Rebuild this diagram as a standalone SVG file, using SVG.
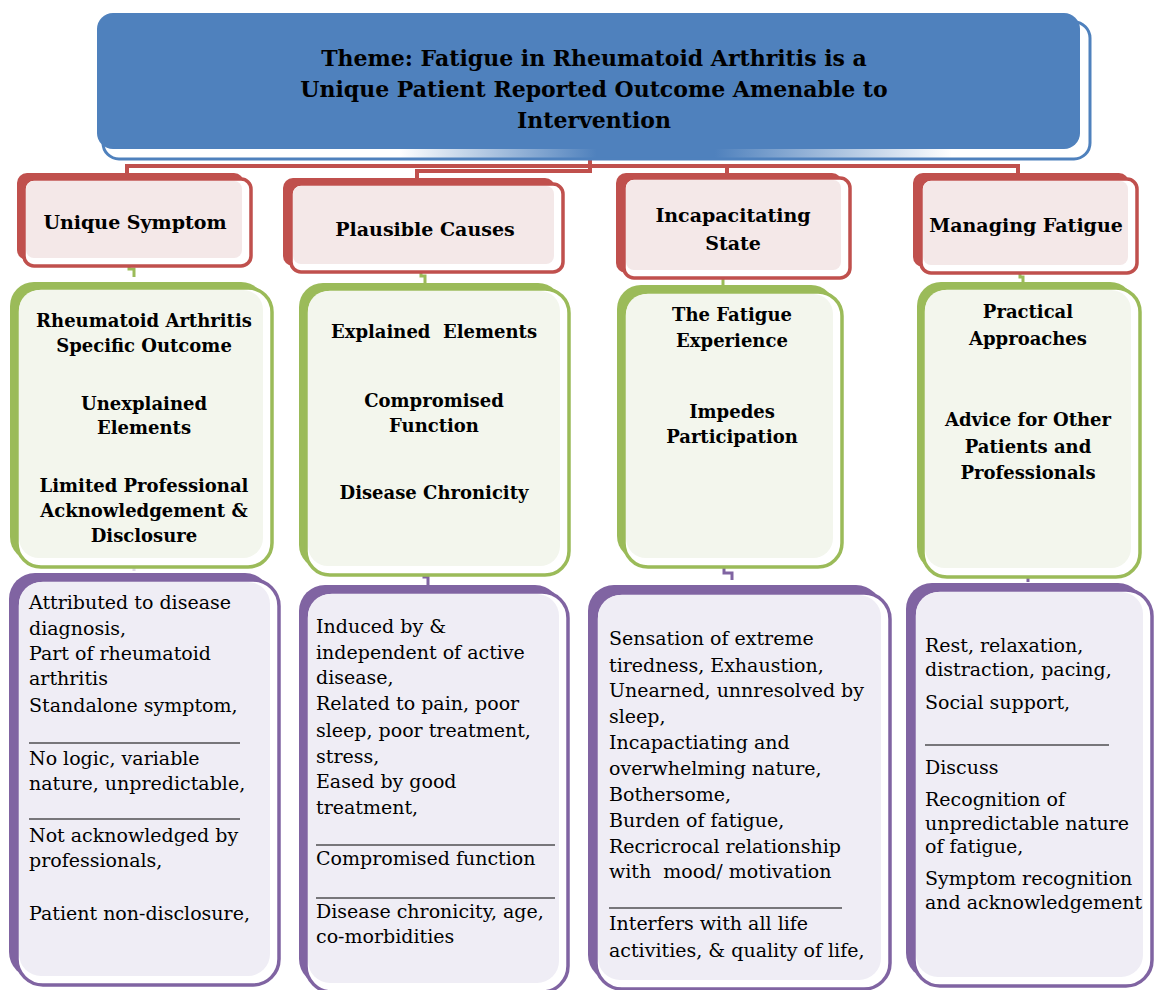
<svg xmlns="http://www.w3.org/2000/svg" width="1154" height="990" viewBox="0 0 1154 990">
  <defs>
    <linearGradient id="bandFade" x1="0" y1="0" x2="1" y2="0">
      <stop offset="0" stop-color="#ffffff"/>
      <stop offset="0.3" stop-color="#ffffff"/>
      <stop offset="0.5" stop-color="#4f81bd"/>
      <stop offset="0.62" stop-color="#4f81bd"/>
      <stop offset="0.86" stop-color="#ffffff"/>
      <stop offset="1" stop-color="#ffffff"/>
    </linearGradient>
    <style>
      .serif { font-family: "DejaVu Serif", "Liberation Serif", serif; fill: #000; }
      .theme { font-size: 22px; font-weight: bold; text-anchor: middle; }
      .head { font-size: 19px; font-weight: bold; text-anchor: middle; }
      .sub { font-size: 18px; font-weight: bold; text-anchor: middle; }
      .item { font-size: 19px; }
      .rule { stroke: #000; stroke-width: 1.2; }
      .red-back { fill: #c0504d; }
      .red-front { fill: #ffffff; stroke: #c0504d; stroke-width: 3.5; }
      .red-fill { fill: #f4e8e8; }
      .green-back { fill: #9bbb59; }
      .green-front { fill: #ffffff; stroke: #9bbb59; stroke-width: 3.5; }
      .green-fill { fill: #f3f6ed; }
      .purple-back { fill: #8064a2; }
      .purple-front { fill: #ffffff; stroke: #8064a2; stroke-width: 3.5; }
      .purple-fill { fill: #efedf5; }
      .link-red { fill: none; stroke: #c0504d; stroke-width: 4; }
      .link-green { fill: none; stroke: #9bbb59; stroke-width: 3; }
      .link-purple { fill: none; stroke: #8064a2; stroke-width: 3; }
    </style>
  </defs>

  <rect width="1154" height="990" fill="#ffffff"/>

  <!-- connectors -->
  <g id="connectors">
    <path class="link-red" d="M590,150 V166 H127 V175"/>
    <path class="link-red" d="M590,150 V166 H1018 V175"/>
    <path class="link-red" d="M590,150 V166 H727 V175"/>
    <path class="link-red" d="M590,150 V171 H417 V180"/>
    <path class="link-green" d="M129,262 V269 H134 V277"/>
    <path class="link-green" d="M421,270 V276 H425 V284"/>
    <path class="link-green" d="M723,277 V286"/>
    <path class="link-green" d="M1020,272 V277 H1023 V283"/>
    <path class="link-purple" d="M134,565 V571" stroke-opacity="0.25"/>
    <path class="link-purple" d="M424,572 V577 H428 V585"/>
    <path class="link-purple" d="M724,566 V573 H732 V580"/>
    <path class="link-purple" d="M1028,575 V582"/>
  </g>

  <!-- theme banner -->
  <g id="theme">
    <rect x="103" y="22" width="987" height="137" rx="16" fill="url(#bandFade)" stroke="#4f81bd" stroke-width="3"/>
    <rect x="97" y="13" width="983" height="136" rx="16" fill="#4f81bd"/>
    <text class="serif theme" x="594" y="66">Theme: Fatigue in Rheumatoid Arthritis is a</text>
    <text class="serif theme" x="594" y="97">Unique Patient Reported Outcome Amenable to</text>
    <text class="serif theme" x="594" y="128">Intervention</text>
  </g>

  <!-- category headers -->
  <g id="unique-symptom">
    <rect class="red-back" x="17" y="173" width="227" height="87" rx="10"/>
    <rect class="red-front" x="24" y="179" width="227" height="87" rx="10"/>
    <rect class="red-fill" x="26" y="181" width="216" height="77" rx="8"/>
    <text class="serif head" x="135" y="229">Unique Symptom</text>
  </g>
  <g id="plausible-causes">
    <rect class="red-back" x="283" y="178" width="272" height="88" rx="10"/>
    <rect class="red-front" x="291" y="184" width="272" height="88" rx="10"/>
    <rect class="red-fill" x="293" y="186" width="261" height="78" rx="8"/>
    <text class="serif head" x="425" y="236">Plausible Causes</text>
  </g>
  <g id="incapacitating-state">
    <rect class="red-back" x="616" y="173" width="226" height="100" rx="10"/>
    <rect class="red-front" x="624" y="178" width="226" height="100" rx="10"/>
    <rect class="red-fill" x="626" y="180" width="215" height="90" rx="8"/>
    <text class="serif head" x="733" y="222">Incapacitating</text>
    <text class="serif head" x="733" y="250">State</text>
  </g>
  <g id="managing-fatigue">
    <rect class="red-back" x="913" y="173" width="216" height="94" rx="10"/>
    <rect class="red-front" x="921" y="179" width="216" height="94" rx="10"/>
    <rect class="red-fill" x="923" y="181" width="205" height="84" rx="8"/>
    <text class="serif head" x="1026" y="232">Managing Fatigue</text>
  </g>

  <!-- sub-themes -->
  <g id="unique-symptom-subthemes">
    <rect class="green-back" x="10" y="282" width="255" height="279" rx="24"/>
    <rect class="green-front" x="17" y="288" width="255" height="279" rx="24"/>
    <rect class="green-fill" x="19" y="290" width="244" height="268" rx="20"/>
    <text class="serif sub" x="144" y="327">Rheumatoid Arthritis</text>
    <text class="serif sub" x="144" y="352">Specific Outcome</text>
    <text class="serif sub" x="144" y="410">Unexplained</text>
    <text class="serif sub" x="144" y="434">Elements</text>
    <text class="serif sub" x="144" y="492">Limited Professional</text>
    <text class="serif sub" x="144" y="517">Acknowledgement &amp;</text>
    <text class="serif sub" x="144" y="542">Disclosure</text>
  </g>
  <g id="plausible-causes-subthemes">
    <rect class="green-back" x="299" y="283" width="263" height="286" rx="24"/>
    <rect class="green-front" x="306" y="289" width="263" height="286" rx="24"/>
    <rect class="green-fill" x="308" y="291" width="252" height="275" rx="20"/>
    <text class="serif sub" x="434" y="338">Explained&#160; Elements</text>
    <text class="serif sub" x="434" y="407">Compromised</text>
    <text class="serif sub" x="434" y="432">Function</text>
    <text class="serif sub" x="434" y="499">Disease Chronicity</text>
  </g>
  <g id="incapacitating-state-subthemes">
    <rect class="green-back" x="617" y="285" width="218" height="275" rx="24"/>
    <rect class="green-front" x="624" y="292" width="218" height="275" rx="24"/>
    <rect class="green-fill" x="626" y="294" width="207" height="264" rx="20"/>
    <text class="serif sub" x="732" y="321">The Fatigue</text>
    <text class="serif sub" x="732" y="347">Experience</text>
    <text class="serif sub" x="732" y="418">Impedes</text>
    <text class="serif sub" x="732" y="443">Participation</text>
  </g>
  <g id="managing-fatigue-subthemes">
    <rect class="green-back" x="917" y="282" width="217" height="289" rx="24"/>
    <rect class="green-front" x="923" y="288" width="217" height="289" rx="24"/>
    <rect class="green-fill" x="925" y="290" width="206" height="278" rx="20"/>
    <text class="serif sub" x="1028" y="318">Practical</text>
    <text class="serif sub" x="1028" y="345">Approaches</text>
    <text class="serif sub" x="1028" y="426">Advice for Other</text>
    <text class="serif sub" x="1028" y="453">Patients and</text>
    <text class="serif sub" x="1028" y="479">Professionals</text>
  </g>

  <!-- codes -->
  <g id="unique-symptom-codes">
    <rect class="purple-back" x="9" y="573" width="262" height="405" rx="26"/>
    <rect class="purple-front" x="17" y="580" width="262" height="405" rx="26"/>
    <rect class="purple-fill" x="19" y="582" width="251" height="394" rx="22"/>
    <text class="serif item" x="29" y="609">Attributed to disease</text>
    <text class="serif item" x="29" y="635">diagnosis,</text>
    <text class="serif item" x="29" y="660">Part of rheumatoid</text>
    <text class="serif item" x="29" y="685">arthritis</text>
    <text class="serif item" x="29" y="712">Standalone symptom,</text>
    <line class="rule" x1="29" y1="743" x2="240" y2="743"/>
    <text class="serif item" x="29" y="765">No logic, variable</text>
    <text class="serif item" x="29" y="790">nature, unpredictable,</text>
    <line class="rule" x1="29" y1="819" x2="240" y2="819"/>
    <text class="serif item" x="29" y="842">Not acknowledged by</text>
    <text class="serif item" x="29" y="867">professionals,</text>
    <text class="serif item" x="29" y="920">Patient non-disclosure,</text>
  </g>
  <g id="plausible-causes-codes">
    <rect class="purple-back" x="299" y="585" width="262" height="400" rx="26"/>
    <rect class="purple-front" x="306" y="592" width="262" height="400" rx="26"/>
    <rect class="purple-fill" x="308" y="594" width="251" height="389" rx="22"/>
    <text class="serif item" x="316" y="633">Induced by &amp;</text>
    <text class="serif item" x="316" y="659">independent of active</text>
    <text class="serif item" x="316" y="684">disease,</text>
    <text class="serif item" x="316" y="710">Related to pain, poor</text>
    <text class="serif item" x="316" y="737">sleep, poor treatment,</text>
    <text class="serif item" x="316" y="763">stress,</text>
    <text class="serif item" x="316" y="788">Eased by good</text>
    <text class="serif item" x="316" y="814">treatment,</text>
    <line class="rule" x1="316" y1="845" x2="555" y2="845"/>
    <text class="serif item" x="316" y="865">Compromised function</text>
    <line class="rule" x1="316" y1="898" x2="555" y2="898"/>
    <text class="serif item" x="316" y="918">Disease chronicity, age,</text>
    <text class="serif item" x="316" y="943">co-morbidities</text>
  </g>
  <g id="incapacitating-state-codes">
    <rect class="purple-back" x="588" y="585" width="294" height="396" rx="26"/>
    <rect class="purple-front" x="596" y="593" width="294" height="396" rx="26"/>
    <rect class="purple-fill" x="598" y="595" width="283" height="385" rx="22"/>
    <text class="serif item" x="609" y="645">Sensation of extreme</text>
    <text class="serif item" x="609" y="672">tiredness, Exhaustion,</text>
    <text class="serif item" x="609" y="697">Unearned, unnresolved by</text>
    <text class="serif item" x="609" y="723">sleep,</text>
    <text class="serif item" x="609" y="749">Incapactiating and</text>
    <text class="serif item" x="609" y="775">overwhelming nature,</text>
    <text class="serif item" x="609" y="801">Bothersome,</text>
    <text class="serif item" x="609" y="827">Burden of fatigue,</text>
    <text class="serif item" x="609" y="853">Recricrocal relationship</text>
    <text class="serif item" x="609" y="878" xml:space="preserve">with  mood/ motivation</text>
    <line class="rule" x1="609" y1="908" x2="842" y2="908"/>
    <text class="serif item" x="609" y="930">Interfers with all life</text>
    <text class="serif item" x="609" y="957">activities, &amp; quality of life,</text>
  </g>
  <g id="managing-fatigue-codes">
    <rect class="purple-back" x="906" y="583" width="238" height="396" rx="26"/>
    <rect class="purple-front" x="914" y="590" width="238" height="396" rx="26"/>
    <rect class="purple-fill" x="916" y="592" width="227" height="385" rx="22"/>
    <text class="serif item" x="925" y="652">Rest, relaxation,</text>
    <text class="serif item" x="925" y="676">distraction, pacing,</text>
    <text class="serif item" x="925" y="709">Social support,</text>
    <line class="rule" x1="925" y1="745" x2="1109" y2="745"/>
    <text class="serif item" x="925" y="774">Discuss</text>
    <text class="serif item" x="925" y="806">Recognition of</text>
    <text class="serif item" x="925" y="830">unpredictable nature</text>
    <text class="serif item" x="925" y="853">of fatigue,</text>
    <text class="serif item" x="925" y="885">Symptom recognition</text>
    <text class="serif item" x="925" y="909">and acknowledgement</text>
  </g>
</svg>
